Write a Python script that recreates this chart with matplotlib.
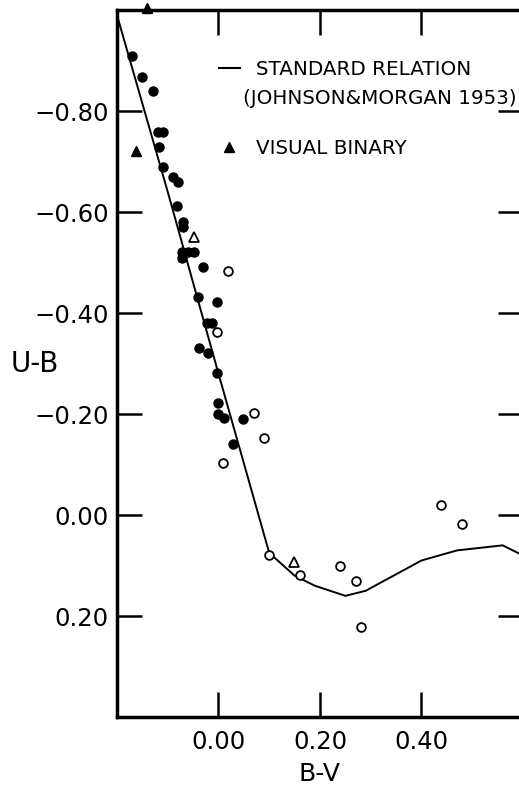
import matplotlib
matplotlib.use("Agg")
import matplotlib.pyplot as plt
from matplotlib.lines import Line2D

# standard relation (Johnson & Morgan 1953)
std_bv = [-0.20, -0.10, 0.00, 0.10, 0.15, 0.19, 0.25, 0.29, 0.40, 0.47, 0.56, 0.62]
std_ub = [-0.99, -0.64, -0.28, 0.075, 0.12, 0.14, 0.16, 0.15, 0.09, 0.07, 0.06, 0.09]

# filled circles
fill_bv = [-0.171, -0.150, -0.130, -0.120, -0.110, -0.118, -0.110, -0.089, -0.079, -0.081,
           -0.069, -0.069, -0.071, -0.061, -0.049, -0.071, -0.030, -0.041, -0.002, -0.022,
           -0.012, -0.039, -0.020, -0.002, 0.000, 0.000, 0.010, 0.049, 0.028]
fill_ub = [-0.909, -0.867, -0.840, -0.758, -0.758, -0.729, -0.689, -0.669, -0.659, -0.612,
           -0.580, -0.570, -0.521, -0.521, -0.521, -0.509, -0.491, -0.432, -0.422, -0.380,
           -0.380, -0.331, -0.321, -0.281, -0.222, -0.200, -0.192, -0.190, -0.141]

# open circles
open_bv = [0.018, -0.002, 0.069, 0.089, 0.008, 0.439, 0.479, 0.099, 0.160, 0.240, 0.270, 0.280]
open_ub = [-0.483, -0.362, -0.202, -0.152, -0.103, -0.020, 0.018, 0.079, 0.119, 0.101, 0.131, 0.222]

# open triangles
otri_bv = [-0.049, 0.148]
otri_ub = [-0.550, 0.093]

# visual binaries (filled triangles)
vb_bv = [-0.140, -0.162]
vb_ub = [-1.005, -0.720]

x_ticks = [0.00, 0.20, 0.40]
x_labels = ["0.00", "0.20", "0.40"]
y_ticks = [-0.80, -0.60, -0.40, -0.20, 0.00, 0.20]
y_labels = ["\u22120.80", "\u22120.60", "\u22120.40", "\u22120.20", "0.00", "0.20"]

plt.rcParams['font.family'] = ['DejaVu Sans']

fig = plt.figure(figsize=(5.19, 7.87), dpi=100)
ax = fig.add_axes([0.2254, 0.0889, 0.7823, 0.8983])

ax.plot(std_bv, std_ub, color='black', lw=1.4)
ax.plot(fill_bv, fill_ub, 'o', color='black', ms=6.5, ls='none')
ax.plot(open_bv, open_ub, 'o', mfc='white', mec='black', mew=1.3, ms=6.3, ls='none')
ax.plot(otri_bv, otri_ub, '^', mfc='white', mec='black', mew=1.3, ms=7, ls='none')
ax.plot(vb_bv, vb_ub, '^', color='black', ms=7.5, ls='none', clip_on=False, zorder=5)

ax.set_xlim(-0.20, 0.60)
ax.set_ylim(0.40, -1.00)

ax.set_xticks(x_ticks, x_labels)
ax.set_yticks(y_ticks, y_labels)
ax.tick_params(direction='in', length=18, width=1.8, top=True, right=True,
               labelsize=17.5, pad=6)
ax.tick_params(axis='x', pad=9)
for s in ax.spines.values():
    s.set_linewidth(2.5)

ax.set_xlabel("B-V", fontsize=18)
ax.xaxis.set_label_coords(0.5, -0.063)
ax.set_ylabel("U-B", fontsize=20, rotation=0, ha='left', va='center')
ax.yaxis.set_label_coords(-0.262, 0.5)

# legend
h1 = Line2D([], [], color='black', lw=1.5)
h2 = Line2D([], [], color='none')
leg1 = ax.legend([h1, h2], ["STANDARD RELATION", "(JOHNSON&MORGAN 1953)"],
                 loc='upper left', bbox_to_anchor=(0.251, 0.929), frameon=False,
                 fontsize=14.3, handlelength=1.05, handletextpad=0.8,
                 labelspacing=0.5, borderpad=0, borderaxespad=0)
leg1.get_texts()[1].set_x(-13)
ax.add_artist(leg1)
h3 = Line2D([], [], marker='^', color='black', ls='none', ms=7.5)
ax.legend([h3], ["VISUAL BINARY"], loc='upper left', bbox_to_anchor=(0.251, 0.818),
          frameon=False, fontsize=14.3, handlelength=1.05, handletextpad=0.8,
          borderpad=0, borderaxespad=0)

fig.savefig("out.png", dpi=100)
